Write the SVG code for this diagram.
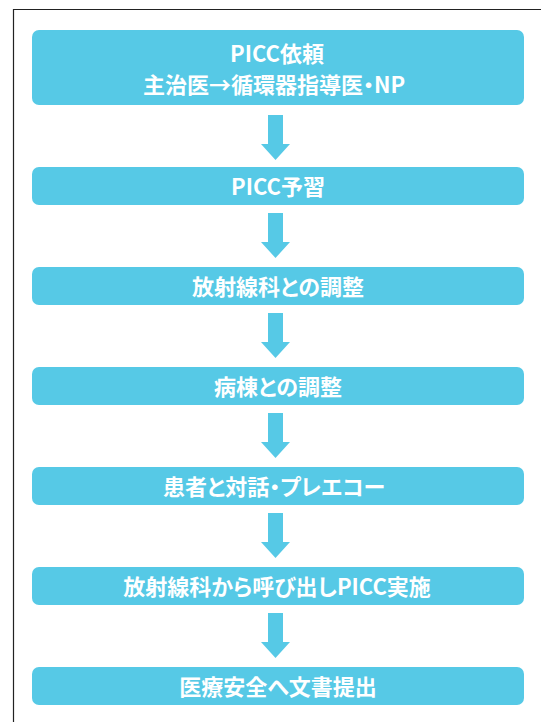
<svg xmlns="http://www.w3.org/2000/svg" xmlns:xlink="http://www.w3.org/1999/xlink" width="541" height="722" viewBox="0 0 541 722">
<style>
.box{fill:#56C9E6;}
.arr{fill:#56C9E6;}
.frame{fill:none;stroke:#222;stroke-width:1.2;}
.t{font-family:"Noto Sans CJK JP","Noto Sans",sans-serif;font-weight:bold;font-size:22px;fill:#fff;text-anchor:middle;font-feature-settings:"palt";}
</style>
<defs>
<path id="a" d="M268,0 H283 V29 H290 L275.5,45 L261,29 H268 Z"/>
</defs>
<rect width="541" height="722" fill="#fff"/>
<path class="frame" d="M13.5,722 V9.5 H541"/>
<g id="connectors">
<use href="#a" class="arr" y="115"/>
<use href="#a" class="arr" y="213"/>
<use href="#a" class="arr" y="313"/>
<use href="#a" class="arr" y="413"/>
<use href="#a" class="arr" y="513"/>
<use href="#a" class="arr" y="613"/>
</g>
<g id="n1"><rect class="box" x="32" y="30" width="492" height="75" rx="7"/><text class="t" x="277" y="61.5">PICC依頼</text><text class="t" x="274" y="92.5">主治医→循環器指導医・NP</text></g>
<g id="n2"><rect class="box" x="32" y="167" width="492" height="38" rx="7"/><text class="t" x="278" y="194.5">PICC予習</text></g>
<g id="n3"><rect class="box" x="32" y="267" width="492" height="38" rx="7"/><text class="t" x="278" y="294.5">放射線科との調整</text></g>
<g id="n4"><rect class="box" x="32" y="367" width="492" height="38" rx="7"/><text class="t" x="278" y="394.5">病棟との調整</text></g>
<g id="n5"><rect class="box" x="32" y="467" width="492" height="38" rx="7"/><text class="t" x="274" y="494.5">患者と対話・プレエコー</text></g>
<g id="n6"><rect class="box" x="32" y="567" width="492" height="38" rx="7"/><text class="t" x="277" y="594.5">放射線科から呼び出しPICC実施</text></g>
<g id="n7"><rect class="box" x="32" y="667" width="492" height="38" rx="7"/><text class="t" x="278" y="694.5">医療安全へ文書提出</text></g>
</svg>
